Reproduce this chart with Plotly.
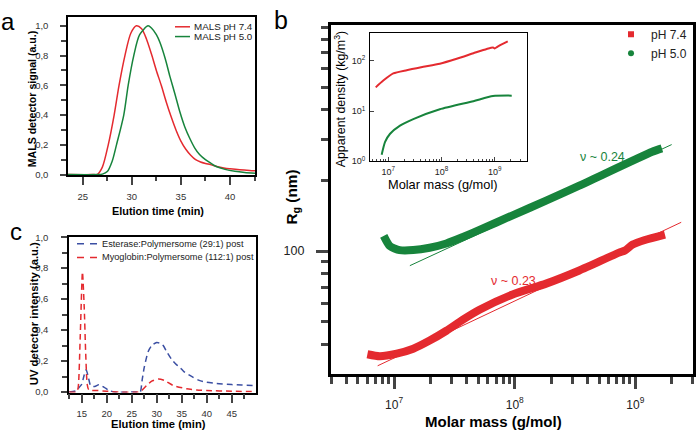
import plotly.graph_objects as go

# ---------------- Panel a: MALS detector signal ----------------
time_a_74 = [23.5, 26.0, 26.5, 27.0, 27.6, 28.2, 28.7, 29.3, 29.9, 30.47, 31.0, 31.5, 32.0, 32.5,
             33.0, 33.5, 34.0, 34.5, 35.0, 35.5, 36.0, 36.5, 37.0, 37.5, 38.0, 38.5, 39.0, 39.5,
             40.0, 41.0, 42.0, 42.55]
mals_74 = [0.0, 0.0, 0.002, 0.05, 0.2, 0.4, 0.6, 0.8, 0.95, 1.0, 0.98, 0.91, 0.81, 0.70,
           0.60, 0.49, 0.39, 0.30, 0.225, 0.17, 0.13, 0.10, 0.085, 0.075, 0.067, 0.057, 0.049, 0.043,
           0.039, 0.032, 0.027, 0.025]
time_a_50 = [23.5, 26.5, 27.0, 27.5, 28.0, 28.44, 29.18, 29.63, 30.2, 30.8, 31.66, 32.0, 32.5,
             32.86, 33.4, 33.88, 34.4, 34.9, 35.4, 35.9, 36.4, 36.9, 37.5, 37.96, 38.6, 39.5,
             40.5, 41.5, 42.55]
mals_50 = [0.0, 0.0, 0.003, 0.02, 0.09, 0.2, 0.4, 0.6, 0.8, 0.94, 1.0, 0.985, 0.94,
           0.889, 0.78, 0.66, 0.54, 0.42, 0.32, 0.244, 0.18, 0.135, 0.10, 0.08, 0.054, 0.035,
           0.022, 0.014, 0.009]

# ---------------- Panel c: UV detector intensity ----------------
time_c_est = [12.5, 14.0, 14.5, 15.0, 15.5, 15.9, 16.3, 16.8, 17.6, 18.5, 19.5, 20.5, 21.5, 26.0,
              26.7, 27.1, 27.5, 28.3, 29.0, 30.0, 30.7, 31.3, 32.0, 33.0, 34.0, 34.7, 35.5, 37.3,
              38.5, 40.0, 42.0, 45.0, 47.0, 49.8]
uv_est = [0.0, 0.01, 0.03, 0.05, 0.11, 0.143, 0.10, 0.04, 0.035, 0.048, 0.03, 0.01, 0.0, 0.0,
          0.0, 0.08, 0.157, 0.262, 0.30, 0.32, 0.315, 0.30, 0.26, 0.21, 0.175, 0.157, 0.13, 0.094,
          0.075, 0.063, 0.055, 0.048, 0.045, 0.042]
time_c_myo = [12.5, 14.0, 14.3, 14.7, 15.15, 15.5, 15.8, 16.1, 16.4, 17.0, 18.0, 20.0, 22.0, 26.3,
              27.0, 28.0, 29.0, 30.3, 31.5, 33.3, 36.0, 38.0, 40.0, 45.0, 49.8]
uv_myo = [0.0, 0.0, 0.03, 0.35, 0.776, 0.55, 0.25, 0.05, 0.015, 0.01, 0.01, 0.005, 0.0, 0.0,
          0.01, 0.042, 0.07, 0.084, 0.075, 0.042, 0.021, 0.013, 0.01, 0.005, 0.003]

# ---------------- Panel b: Rg vs molar mass ----------------
mm_74 = [6.0e6, 7.6e6, 1.05e7, 1.44e7, 1.97e7, 2.71e7, 3.72e7, 5.1e7, 9.6e7, 1.82e8, 3.43e8,
         7.33e8, 8.2e8, 9.5e8, 1.2e9, 1.76e9]
rg_74 = [36.3, 35.6, 36.5, 38.3, 41.5, 45.7, 51.0, 56.2, 65.3, 72.6, 82.6,
         98.4, 100.5, 106.5, 111.5, 117.5]
mm_50 = [8.2e6, 9.2e6, 1.11e7, 1.44e7, 1.97e7, 2.71e7, 3.72e7, 5.1e7, 9.6e7, 1.82e8, 3.43e8,
         1.38e9, 1.66e9]
rg_50 = [116.0, 105.0, 100.9, 100.9, 103.3, 107.7, 114.8, 123.0, 142.0, 164.0, 190.0,
         265.0, 274.0]
fit_mm_74 = [7.3e6, 2.4e9]
fit_rg_74 = [32.4, 132.6]
fit_mm_50 = [1.35e7, 2.0e9]
fit_rg_50 = [86.6, 284.4]

# inset: apparent density
dens_mm_74 = [5.8e6, 8.05e6, 1.24e7, 2.22e7, 4.55e7, 9.3e7, 1.93e8, 3.98e8, 7.08e8, 9.3e8,
              1.0e9, 1.12e9, 1.76e9]
dens_74 = [29.8, 40.7, 56.5, 65.6, 76.4, 88.5, 111.0, 143.0, 174.0, 186.0, 178.0, 192.0, 245.0]
dens_mm_50 = [7.5e6, 8.7e6, 1.08e7, 1.66e7, 2.95e7, 9.3e7, 3.98e8, 9.3e8, 2.09e9]
dens_50 = [1.35, 2.44, 3.55, 5.16, 6.95, 10.9, 15.8, 20.0, 20.4]

a_xticks = [25, 30, 35, 40]
a_yticks = [0.0, 0.2, 0.4, 0.6, 0.8, 1.0]
a_yticktext = ["0,0", "0,2", "0,4", "0,6", "0,8", "1,0"]
c_xticks = [15, 20, 25, 30, 35, 40, 45]

RED = "#e42a2f"
GREEN = "#17843c"
BLUE = "#3b4fa3"
FONT = "Liberation Sans, Arial, sans-serif"
W, H = 700, 437


def X(px):
    return px / W


def Y(py):
    return 1 - py / H


fig = go.Figure()

# panel a
fig.add_trace(go.Scatter(x=time_a_74, y=mals_74, mode="lines", line=dict(color=RED, width=1.5, shape="spline", smoothing=0.8),
                         xaxis="x", yaxis="y", showlegend=False))
fig.add_trace(go.Scatter(x=time_a_50, y=mals_50, mode="lines", line=dict(color=GREEN, width=1.5, shape="spline", smoothing=0.8),
                         xaxis="x", yaxis="y", showlegend=False))
# panel c
fig.add_trace(go.Scatter(x=time_c_est, y=uv_est, mode="lines", line=dict(color=BLUE, width=1.5, dash="6px,4px", shape="spline", smoothing=0.6),
                         xaxis="x2", yaxis="y2", showlegend=False))
fig.add_trace(go.Scatter(x=time_c_myo, y=uv_myo, mode="lines", line=dict(color=RED, width=1.5, dash="6px,4px", shape="spline", smoothing=0.6),
                         xaxis="x2", yaxis="y2", showlegend=False))
# panel b main
fig.add_trace(go.Scatter(x=mm_74, y=rg_74, mode="lines", line=dict(color=RED, width=8, shape="spline", smoothing=0.6),
                         xaxis="x3", yaxis="y3", showlegend=False))
fig.add_trace(go.Scatter(x=mm_50, y=rg_50, mode="lines", line=dict(color=GREEN, width=8, shape="spline", smoothing=0.6),
                         xaxis="x3", yaxis="y3", showlegend=False))
fig.add_trace(go.Scatter(x=fit_mm_74, y=fit_rg_74, mode="lines", line=dict(color=RED, width=1),
                         xaxis="x3", yaxis="y3", showlegend=False))
fig.add_trace(go.Scatter(x=fit_mm_50, y=fit_rg_50, mode="lines", line=dict(color=GREEN, width=1),
                         xaxis="x3", yaxis="y3", showlegend=False))
# legend entries for b
fig.add_trace(go.Scatter(x=[None], y=[None], mode="markers", marker=dict(symbol="square", size=6, color=RED),
                         name="pH 7.4", xaxis="x3", yaxis="y3", showlegend=True))
fig.add_trace(go.Scatter(x=[None], y=[None], mode="markers", marker=dict(symbol="circle", size=6, color=GREEN),
                         name="pH 5.0", xaxis="x3", yaxis="y3", showlegend=True))
# inset
fig.add_trace(go.Scatter(x=dens_mm_74, y=dens_74, mode="lines", line=dict(color=RED, width=2, shape="spline", smoothing=0.6),
                         xaxis="x4", yaxis="y4", showlegend=False))
fig.add_trace(go.Scatter(x=dens_mm_50, y=dens_50, mode="lines", line=dict(color=GREEN, width=2, shape="spline", smoothing=0.6),
                         xaxis="x4", yaxis="y4", showlegend=False))

tickfont_small = dict(family=FONT, size=9.5, color="#333")
common = dict(showgrid=False, zeroline=False, showline=True, mirror=True, linecolor="black")

fig.update_layout(
    width=W, height=H, margin=dict(l=0, r=0, t=0, b=0),
    paper_bgcolor="white", plot_bgcolor="white",
    font=dict(family=FONT, color="black"),
    xaxis=dict(domain=[X(68), X(255)], anchor="y", range=[23.5, 42.55], linewidth=1.5,
               tickmode="array", tickvals=a_xticks, ticks="outside", ticklen=8, tickwidth=1.5,
               tickfont=tickfont_small, ticklabelstandoff=4,
               minor=dict(tickmode="array", tickvals=[27.5, 32.5, 37.5, 42.5], ticks="outside", ticklen=4, tickwidth=1.5),
               **common),
    yaxis=dict(domain=[Y(174), Y(12.3)], anchor="x", range=[-0.003, 1.059], linewidth=1.5,
               tickmode="array", tickvals=a_yticks, ticktext=a_yticktext, ticks="outside", ticklen=6, tickwidth=1.5,
               tickfont=tickfont_small, ticklabelstandoff=10,
               minor=dict(tickmode="array", tickvals=[0.1, 0.3, 0.5, 0.7, 0.9], ticks="outside", ticklen=5, tickwidth=1.5),
               **common),
    xaxis2=dict(domain=[X(69), X(255.7)], anchor="y2", range=[12.46, 49.8], linewidth=1.5,
                tickmode="array", tickvals=c_xticks, ticks="outside", ticklen=9, tickwidth=1.5,
                tickfont=tickfont_small, ticklabelstandoff=2,
                minor=dict(tickmode="array", tickvals=[12.5, 17.5, 22.5, 27.5, 32.5, 37.5, 42.5, 47.5], ticks="outside", ticklen=5, tickwidth=1.5),
                **common),
    yaxis2=dict(domain=[Y(396.7), Y(237)], anchor="x2", range=[-0.004, 1.004], linewidth=1.5,
                tickmode="array", tickvals=a_yticks, ticktext=a_yticktext, ticks="outside", ticklen=6, tickwidth=1.5,
                tickfont=tickfont_small, ticklabelstandoff=11,
                minor=dict(tickmode="array", tickvals=[0.1, 0.3, 0.5, 0.7, 0.9], ticks="outside", ticklen=5, tickwidth=1.5),
                **common),
    xaxis3=dict(domain=[X(330.7), X(693)], anchor="y3", type="log", range=[6.474, 9.478], linewidth=2.5,
                tickmode="array", tickvals=[1e7, 1e8, 1e9],
                ticktext=["10<sup>7</sup>", "10<sup>8</sup>", "10<sup>9</sup>"],
                ticks="outside", ticklen=12, tickwidth=2.5, tickfont=dict(family=FONT, size=12, color="#222"),
                ticklabelstandoff=5,
                minor=dict(tickmode="array",
                           tickvals=[3e6, 4e6, 5e6, 6e6, 7e6, 8e6, 9e6, 2e7, 3e7, 4e7, 5e7, 6e7, 7e7, 8e7, 9e7,
                                     2e8, 3e8, 4e8, 5e8, 6e8, 7e8, 8e8, 9e8, 2e9, 3e9],
                           ticks="outside", ticklen=7, tickwidth=2.5),
                **common),
    yaxis3=dict(domain=[Y(378), Y(20.7)], anchor="x3", type="log", range=[1.474, 2.963], linewidth=2.5,
                tickmode="array", tickvals=[100], ticktext=["100"],
                ticks="outside", ticklen=12, tickwidth=2.5, tickfont=dict(family=FONT, size=12.5, color="#222"),
                ticklabelstandoff=9,
                minor=dict(tickmode="array",
                           tickvals=[40, 50, 60, 70, 80, 90, 200, 300, 400, 500, 600, 700, 800, 900],
                           ticks="outside", ticklen=7, tickwidth=2.5),
                **common),
    xaxis4=dict(domain=[X(370), X(527.3)], anchor="y4", type="log", range=[6.656, 9.613], linewidth=1,
                tickmode="array", tickvals=[1e7, 1e8, 1e9],
                ticktext=["10<sup>7</sup>", "10<sup>8</sup>", "10<sup>9</sup>"],
                ticks="inside", ticklen=4, tickwidth=1, tickfont=dict(family=FONT, size=9, color="#222"),
                ticklabelstandoff=2,
                minor=dict(tickmode="array",
                           tickvals=[5e6, 6e6, 7e6, 8e6, 9e6, 2e7, 3e7, 4e7, 5e7, 6e7, 7e7, 8e7, 9e7,
                                     2e8, 3e8, 4e8, 5e8, 6e8, 7e8, 8e8, 9e8, 2e9, 3e9, 4e9],
                           ticks="inside", ticklen=2.5, tickwidth=1),
                **common),
    yaxis4=dict(domain=[Y(160), Y(28.7)], anchor="x4", type="log", range=[0, 2.557], linewidth=1,
                tickmode="array", tickvals=[1, 10, 100],
                ticktext=["10<sup>0</sup>", "10<sup>1</sup>", "10<sup>2</sup>"],
                ticks="inside", ticklen=4, tickwidth=1, tickfont=dict(family=FONT, size=9, color="#222"),
                ticklabelstandoff=2,
                **common),
    legend=dict(x=X(611), y=Y(15), xanchor="left", yanchor="top", bgcolor="rgba(0,0,0,0)",
                font=dict(family=FONT, size=12, color="#222"), tracegroupgap=0, itemwidth=30),
)

ann = []


def txt(x, y, s, size, bold=False, angle=0, color="black", xanchor="center", yanchor="middle"):
    ann.append(dict(x=X(x), y=Y(y), xref="paper", yref="paper", text=("<b>%s</b>" % s) if bold else s,
                    showarrow=False, textangle=angle, xanchor=xanchor, yanchor=yanchor,
                    font=dict(family=FONT, size=size, color=color)))


# panel labels
txt(8, 17, "a", 24)
txt(281, 15, "b", 25)
txt(16, 232, "c", 24)
# panel a titles
txt(157.5, 210.7, "Elution time (min)", 10.9, bold=True)
txt(31.5, 96, "MALS detector signal (a.u.)", 10.6, bold=True, angle=-90)
# panel c titles
txt(158, 429, "Elution time (min)", 11.2, bold=True)
txt(34, 316.5, "UV detector intensity (a.u.)", 11.3, bold=True, angle=-90)
# panel b titles
txt(493.7, 426, "Molar mass (g/mol)", 15, bold=True)
txt(292, 197, "R<sub>g</sub> (nm)", 15.3, bold=True, angle=-90)
txt(442.7, 184, "Molar mass (g/mol)", 12.8)
txt(340, 96.5, "Apparent density (kg/m<sup>3</sup>)", 12.4, angle=-90)
txt(602, 156, "ν ~ 0.24", 12.5, color=GREEN)
txt(513, 282, "ν ~ 0.23", 12.5, color=RED)
# legend texts (a, c)
txt(192.3, 22.3, "MALS pH 7.4", 9.8, color="#222", xanchor="left")
txt(192.3, 32.3, "MALS pH 5.0", 9.8, color="#222", xanchor="left")
txt(100, 244.3, "Esterase:Polymersome (29:1) post", 9.2, color="#222", xanchor="left")
txt(100, 258.3, "Myoglobin:Polymersome (112:1) post", 9.2, color="#222", xanchor="left")

shapes = [
    dict(type="line", xref="paper", yref="paper", x0=X(175), x1=X(190), y0=Y(22.3), y1=Y(22.3), line=dict(color=RED, width=1.5)),
    dict(type="line", xref="paper", yref="paper", x0=X(175), x1=X(190), y0=Y(32.3), y1=Y(32.3), line=dict(color=GREEN, width=1.5)),
    dict(type="line", xref="paper", yref="paper", x0=X(77), x1=X(97), y0=Y(244.3), y1=Y(244.3), line=dict(color=BLUE, width=1.5, dash="7px,6px")),
    dict(type="line", xref="paper", yref="paper", x0=X(77), x1=X(97), y0=Y(258.3), y1=Y(258.3), line=dict(color=RED, width=1.5, dash="7px,6px")),
]
fig.update_layout(annotations=ann, shapes=shapes)

fig.write_html("out.html", config={"displayModeBar": False},
               post_script="document.body.style.margin='0px';")
